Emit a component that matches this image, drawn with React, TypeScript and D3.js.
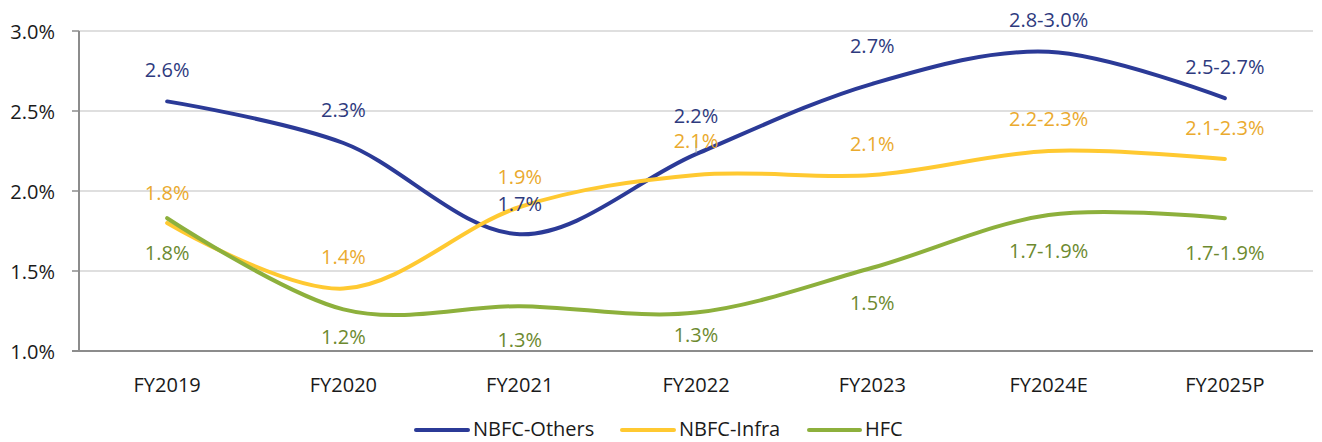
import React from "react";
import * as d3 from "d3";

const categories = ["FY2019", "FY2020", "FY2021", "FY2022", "FY2023", "FY2024E", "FY2025P"];
const nbfcOthers = [2.56, 2.3, 1.73, 2.23, 2.67, 2.87, 2.58];
const nbfcInfra = [1.8, 1.39, 1.9, 2.1, 2.1, 2.25, 2.2];
const hfc = [1.83, 1.26, 1.28, 1.24, 1.52, 1.85, 1.83];
const othersLabels = ["2.6%", "2.3%", "1.7%", "2.2%", "2.7%", "2.8-3.0%", "2.5-2.7%"];
const infraLabels = ["1.8%", "1.4%", "1.9%", "2.1%", "2.1%", "2.2-2.3%", "2.1-2.3%"];
const hfcLabels = ["1.8%", "1.2%", "1.3%", "1.3%", "1.5%", "1.7-1.9%", "1.7-1.9%"];
const yTicks = [1.0, 1.5, 2.0, 2.5, 3.0];
const seriesNames = ["NBFC-Others", "NBFC-Infra", "HFC"];

// layout (pixel offsets of data labels from their points)
const othersDy = [-32, -34, -31, -39, -38, -32, -32];
const infraDy = [-31, -32, -31, -35, -32, -33, -32];
const hfcDy = [34, 27, 33, 22, 35, 35, 34];

const W = 1322;
const H = 442;
const FONT = "'Open Sans', sans-serif";

export default function App() {
  const left = 79;
  const right = 1313;
  const top = 31;
  const bottom = 351;
  const x = d3.scalePoint<string>().domain(categories).range([left, right]).padding(0.5);
  const y = d3.scaleLinear().domain([1.0, 3.0]).range([bottom, top]);
  const line = d3
    .line<number>()
    .x((_, i) => x(categories[i]) as number)
    .y((d) => y(d))
    .curve(d3.curveCardinal.tension(0));

  const series = [
    { name: seriesNames[0], values: nbfcOthers, labels: othersLabels, dy: othersDy, color: "#2B3A97", text: "#2E3A7E" },
    { name: seriesNames[1], values: nbfcInfra, labels: infraLabels, dy: infraDy, color: "#FFC931", text: "#EAAA2E" },
    { name: seriesNames[2], values: hfc, labels: hfcLabels, dy: hfcDy, color: "#8DB03C", text: "#6D8A2F" },
  ];

  const legendItems = [
    { x0: 416, x1: 468, tx: 473 },
    { x0: 622, x1: 674, tx: 679 },
    { x0: 809, x1: 860, tx: 865 },
  ];

  return (
    <svg width={W} height={H} style={{ position: "absolute", left: 0, top: 0, background: "#fff" }} fontFamily={FONT}>
      <rect width={W} height={H} fill="#fff" />
      {yTicks.map((t) => (
        <g key={t}>
          {t > 1.0 && <line x1={left} x2={right} y1={y(t)} y2={y(t)} stroke="#D4D4D4" strokeWidth={1.5} />}
          <line x1={left - 7} x2={left} y1={y(t)} y2={y(t)} stroke="#8C8C8C" strokeWidth={1.5} />
          <text x={55} y={y(t)} textAnchor="end" dominantBaseline="central" fontSize={20} fill="#1a1a1a">
            {t.toFixed(1) + "%"}
          </text>
        </g>
      ))}
      <line x1={left} x2={left} y1={top} y2={bottom} stroke="#8C8C8C" strokeWidth={2} />
      <line x1={left - 7} x2={right} y1={bottom} y2={bottom} stroke="#8C8C8C" strokeWidth={2} />
      {categories.map((c) => (
        <text key={c} x={x(c)} y={384} textAnchor="middle" dominantBaseline="central" fontSize={20} fill="#1a1a1a">
          {c}
        </text>
      ))}
      {series.map((s) => (
        <path key={s.name} d={line(s.values) || ""} fill="none" stroke={s.color} strokeWidth={4} strokeLinecap="round" />
      ))}
      <line x1={x("FY2022")} x2={x("FY2022")} y1={y(nbfcOthers[3]) - 1} y2={y(nbfcOthers[3]) - 14} stroke="#A6A6A6" strokeWidth={1} />
      {series.map((s) =>
        s.values.map((v, i) => (
          <text
            key={s.name + i}
            x={x(categories[i])}
            y={y(v) + s.dy[i]}
            textAnchor="middle"
            dominantBaseline="central"
            fontSize={20}
            fill={s.text}
          >
            {s.labels[i]}
          </text>
        ))
      )}
      {series.map((s, i) => (
        <g key={"lg" + s.name}>
          <line x1={legendItems[i].x0} x2={legendItems[i].x1} y1={430} y2={430} stroke={s.color} strokeWidth={4} strokeLinecap="round" />
          <text x={legendItems[i].tx} y={436} fontSize={20} fill="#1a1a1a">
            {s.name}
          </text>
        </g>
      ))}
    </svg>
  );
}
